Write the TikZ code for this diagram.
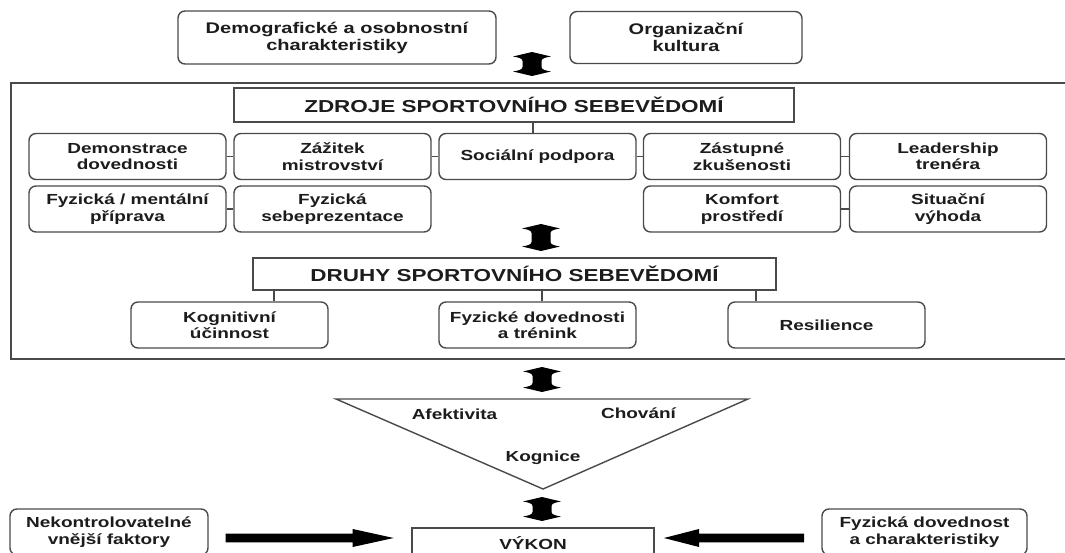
\documentclass[tikz,border=0pt]{standalone}
\usepackage{fontspec}
\setmainfont{Liberation Sans}[FakeStretch=1.3]
\usetikzlibrary{calc}
\definecolor{ln}{HTML}{4A4A4A}
\definecolor{tx}{HTML}{1C1C1C}
\newcommand\bodyf{\fontsize{14.6}{16.5}\selectfont\bfseries}
\newcommand\topf{\fontsize{15.4}{17}\selectfont\bfseries}
\newcommand\titf{\fontsize{17.3}{19}\selectfont\bfseries}
\newcommand\udarr[3]{% center x, top y, bottom y
  \fill[black] (#1,#2) -- (#1+19,#2+4.5)
    .. controls (#1+13,#2+5.5) and (#1+9.5,#2+6.5) .. (#1+9.5,#2+9)
    -- (#1+9.5,#3-9)
    .. controls (#1+9.5,#3-6.5) and (#1+13,#3-5.5) .. (#1+19,#3-4.5)
    -- (#1,#3) -- (#1-19,#3-4.5)
    .. controls (#1-13,#3-5.5) and (#1-9.5,#3-6.5) .. (#1-9.5,#3-9)
    -- (#1-9.5,#2+9)
    .. controls (#1-9.5,#2+6.5) and (#1-13,#2+5.5) .. (#1-19,#2+4.5)
    -- cycle;}
\begin{document}
\begin{tikzpicture}[x=1pt,y=-1pt,
  rbox/.style={draw=ln,line width=1.4pt,rounded corners=7pt,align=center,text=tx,inner sep=0pt,font=\bodyf},
  rowbox/.style={rbox,minimum width=197pt,minimum height=46pt},
  tbox/.style={draw=ln,line width=2pt,align=center,text=tx,inner sep=0pt,font=\titf},
  conn/.style={draw=ln,line width=1.4pt},
  lbl/.style={text=tx,font=\bodyf,inner sep=0pt}]
\useasboundingbox (0,0) rectangle (1065,553);
\clip (0,0) rectangle (1065,553);
\fill[white] (0,0) rectangle (1065,553);

% top boxes
\node[rbox,font=\topf,minimum width=318pt,minimum height=53pt] (demo) at (337,37.5) {Demografické a osobnostní\\charakteristiky};
\node[rbox,font=\topf,minimum width=232pt,minimum height=52pt] (org) at (686,37.5) {Organizační\\kultura};
\udarr{532}{52}{76}

% outer frame
\draw[ln,line width=2pt] (11,83) rectangle (1075,359);

% sources
\node[tbox,minimum width=560pt,minimum height=34pt] (zdroje) at (514,105) {ZDROJE SPORTOVNÍHO SEBEVĚDOMÍ};
\node[rowbox] (dem) at (127.5,156.5) {Demonstrace\\dovednosti};
\node[rowbox] (zaz) at (332.5,156.5) {Zážitek\\mistrovství};
\node[rowbox] (soc) at (537.5,156.5) {Sociální podpora};
\node[rowbox] (zas) at (742,156.5) {Zástupné\\zkušenosti};
\node[rowbox] (lea) at (948,156.5) {Leadership\\trenéra};
\node[rowbox] (fmp) at (127.5,209) {Fyzická / mentální\\příprava};
\node[rowbox] (fsp) at (332.5,209) {Fyzická\\sebeprezentace};
\node[rowbox] (kom) at (742,209) {Komfort\\prostředí};
\node[rowbox] (sit) at (948,209) {Situační\\výhoda};
\draw[conn] (dem.east) -- (zaz.west);
\draw[conn] (zaz.east) -- (soc.west);
\draw[conn] (soc.east) -- (zas.west);
\draw[conn] (zas.east) -- (lea.west);
\draw[conn] (fmp.east) -- (fsp.west);
\draw[conn] (kom.east) -- (sit.west);
\path ($(soc.north)+(-4.5,0)$) coordinate (c1);
\draw[conn] (c1) -- (c1 |- zdroje.south);

\udarr{541}{224}{251}

% kinds
\node[tbox,minimum width=523pt,minimum height=32pt] (druhy) at (514.5,274) {DRUHY SPORTOVNÍHO SEBEVĚDOMÍ};
\node[rowbox] (kog) at (229.5,325) {Kognitivní\\účinnost};
\node[rowbox] (fyz) at (537.5,325) {Fyzické dovednosti\\a trénink};
\node[rowbox] (res) at (826.5,325) {Resilience};
\path ($(kog.north)+(44.5,0)$) coordinate (k1);
\path ($(fyz.north)+(4.5,0)$) coordinate (k2);
\path ($(res.north)+(-70.5,0)$) coordinate (k3);
\draw[conn] (k1) -- (k1 |- druhy.south);
\draw[conn] (k2) -- (k2 |- druhy.south);
\draw[conn] (k3) -- (k3 |- druhy.south);

\udarr{542}{367}{392}

% triangle
\draw[ln,line width=1.4pt] (336,399) -- (748,399) -- (543,489) -- cycle;
\node[lbl] (afe) at (454.5,414) {Afektivita};
\node[lbl] (cho) at (638.5,413) {Chování};
\node[lbl] (kgn) at (543,458) {Kognice};

\udarr{542}{497}{521}

% bottom
\node[rowbox,minimum width=198pt] (nek) at (109,532) {Nekontrolovatelné\\vnější faktory};
\node[rowbox,minimum width=205pt] (fdc) at (924.5,532) {Fyzická dovednost\\a charakteristiky};
\node[tbox,font=\bodyf,minimum width=242pt,minimum height=30pt] (vykon) at (533,543) {VÝKON};
\coordinate (ya) at (0,538);
\path ($(nek.east |- ya)+(17,0)$) coordinate (la);
\path ($(vykon.east |- ya)+(9,0)$) coordinate (ra);
\fill[black] (la) ++(0,-4.3) -- ++(127,0) -- ++(0,-4.7) -- ++(41,9) -- ++(-41,9) -- ++(0,-4.7) -- ++(-127,0) -- cycle;
\fill[black] (ra) -- ++(35,-9) -- ++(0,4.7) -- ++(105,0) -- ++(0,8.6) -- ++(-105,0) -- ++(0,4.7) -- cycle;
\end{tikzpicture}
\end{document}
